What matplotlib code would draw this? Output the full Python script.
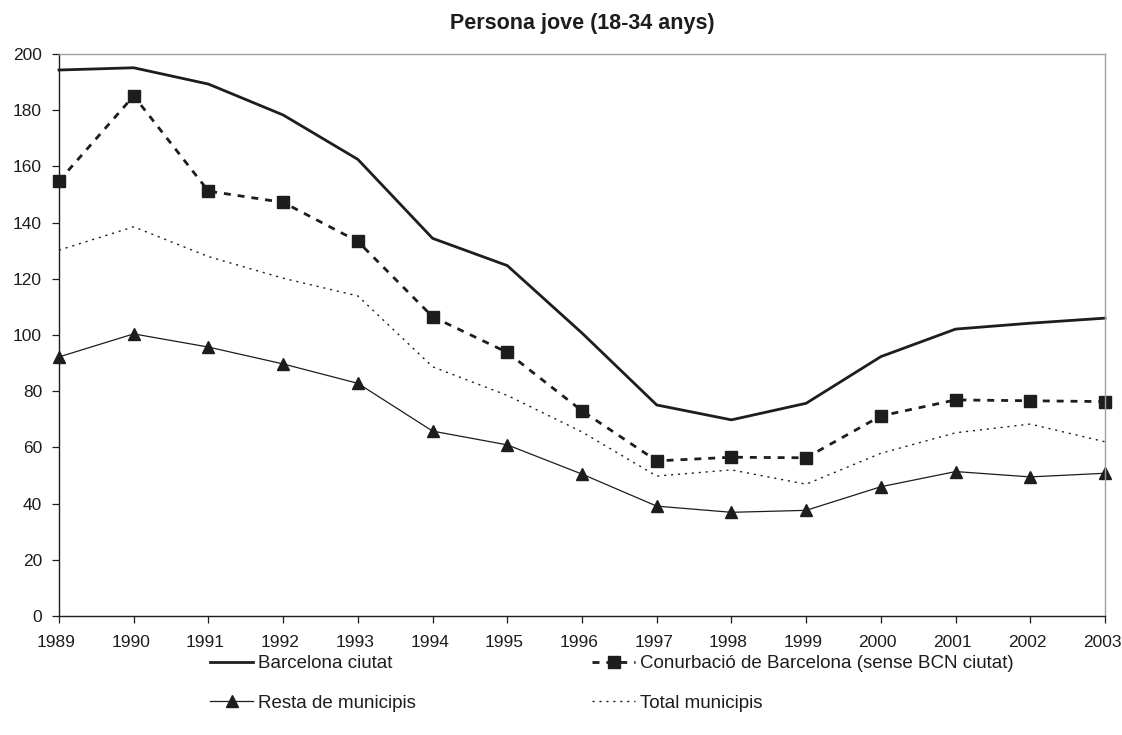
import matplotlib
matplotlib.use("Agg")
import matplotlib.pyplot as plt
from matplotlib.transforms import ScaledTranslation

years = list(range(1989, 2004))
barcelona = [194.3, 195.1, 189.3, 178.3, 162.5, 134.4, 124.7, 100.7, 75.1, 69.8, 75.7, 92.3, 102.1, 104.2, 106.0]
conurbacio = [154.8, 185.1, 151.2, 147.2, 133.3, 106.5, 93.8, 73.0, 55.2, 56.5, 56.3, 71.2, 76.9, 76.6, 76.3]
resta = [92.2, 100.4, 95.7, 89.7, 82.8, 65.8, 60.9, 50.5, 39.1, 36.9, 37.6, 46.0, 51.4, 49.5, 50.8]
total = [130.2, 138.5, 127.9, 120.2, 113.9, 88.7, 78.5, 65.5, 49.8, 52.0, 46.9, 57.9, 65.2, 68.3, 62.0]

labels = ["Barcelona ciutat", "Resta de municipis",
          "Conurbació de Barcelona (sense BCN ciutat)", "Total municipis"]
title = "Persona jove (18-34 anys)"
yticks = list(range(0, 201, 20))

plt.rcParams['font.family'] = ['Liberation Sans', 'DejaVu Sans']
ink = '#1e1c1d'

fig = plt.figure(figsize=(11.22, 7.35), dpi=100)
ax = fig.add_axes([59/1122, 1-616/735, (1105-59)/1122, (616-54)/735])

l1, = ax.plot(years, barcelona, color=ink, lw=2.0, clip_on=False)
l3, = ax.plot(years, resta, color=ink, lw=0.9, marker='^', markersize=8.5,
              markerfacecolor=ink, markeredgecolor=ink, clip_on=False)
l2, = ax.plot(years, conurbacio, color=ink, lw=2.0, dashes=(2.5, 2.5),
              marker='s', markersize=8, markerfacecolor=ink, markeredgecolor=ink,
              clip_on=False)
l4, = ax.plot(years, total, color=ink, lw=1.0, dashes=(1.5, 3.5), clip_on=False)

ax.set_xlim(1989, 2003)
ax.set_ylim(0, 200)
ax.set_xticks(years)
ax.set_yticks(yticks)
ax.tick_params(axis='both', labelsize=12.5, colors=ink, direction='out', width=0.9)
ax.tick_params(axis='x', length=5, pad=9)
ax.tick_params(axis='y', length=4.7, pad=7.5)
shift = ScaledTranslation(-3/100, 0, fig.dpi_scale_trans)
for lab in ax.get_xticklabels():
    lab.set_transform(lab.get_transform() + shift)
ax.spines['left'].set_color(ink)
ax.spines['bottom'].set_color(ink)
ax.spines['top'].set_color('#a0a0a0')
ax.spines['right'].set_color('#a0a0a0')
for s in ax.spines.values():
    s.set_linewidth(1.0)

fig.text(582/1122, 1-24/735, title, ha='center', va='center',
         fontsize=15.5, fontweight='bold', color=ink)

leg = fig.legend([l1, l3, l2, l4], labels, ncol=2, frameon=False,
                 loc='upper left', bbox_to_anchor=(210/1122, 1-655/735),
                 fontsize=13.5, handlelength=2.3, handletextpad=0.27,
                 columnspacing=9.4, labelspacing=1.2, borderpad=0,
                 borderaxespad=0, labelcolor=ink)

fig.savefig("out.png", dpi=100)
